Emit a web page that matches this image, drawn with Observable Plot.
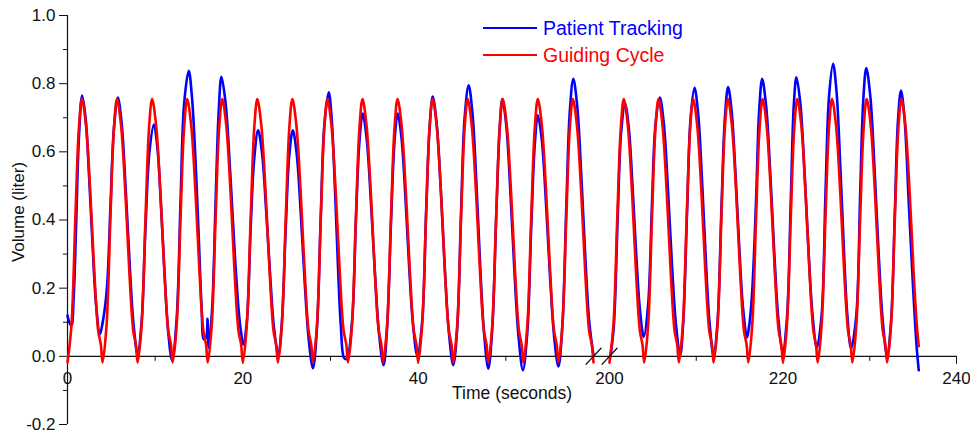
<!DOCTYPE html>
<html><head><meta charset="utf-8">
<script src="https://cdn.jsdelivr.net/npm/d3@7"></script>
<script src="https://cdn.jsdelivr.net/npm/@observablehq/plot@0.6"></script>
<style>
body{margin:0;background:#fff;font-family:"Liberation Sans",Arial,sans-serif;}
#wrap{position:relative;width:970px;height:440px;}
.leg{position:absolute;left:483px;display:flex;align-items:center;font-size:19.5px;height:24px;white-space:nowrap;}
.leg .sw{display:inline-block;width:54px;height:2.5px;margin-right:6px;}
</style></head><body><div id="wrap"></div>
<script>
// ---- data (seconds, liters) ----
const guidingLeft = [
[0,-0.018],[0.45,0.09],[0.9,0.41],[1.3,0.67],[1.65,0.755],[2.1,0.68],[2.6,0.48],[3.05,0.25],[3.5,0.075],[3.8,0.035],
[4,-0.018],[4.45,0.09],[4.9,0.41],[5.3,0.67],[5.65,0.755],[6.1,0.68],[6.6,0.48],[7.05,0.25],[7.5,0.075],[7.8,0.035],
[8,-0.018],[8.45,0.09],[8.9,0.41],[9.3,0.67],[9.65,0.755],[10.1,0.68],[10.6,0.48],[11.05,0.25],[11.5,0.075],[11.8,0.035],
[12,-0.018],[12.45,0.09],[12.9,0.41],[13.3,0.67],[13.65,0.755],[14.1,0.68],[14.6,0.48],[15.05,0.25],[15.5,0.075],[15.8,0.035],
[16,-0.018],[16.45,0.09],[16.9,0.41],[17.3,0.67],[17.65,0.755],[18.1,0.68],[18.6,0.48],[19.05,0.25],[19.5,0.075],[19.8,0.035],
[20,-0.018],[20.45,0.09],[20.9,0.41],[21.3,0.67],[21.65,0.755],[22.1,0.68],[22.6,0.48],[23.05,0.25],[23.5,0.075],[23.8,0.035],
[24,-0.018],[24.45,0.09],[24.9,0.41],[25.3,0.67],[25.65,0.755],[26.1,0.68],[26.6,0.48],[27.05,0.25],[27.5,0.075],[27.8,0.035],
[28,-0.018],[28.45,0.09],[28.9,0.41],[29.3,0.67],[29.65,0.755],[30.1,0.68],[30.6,0.48],[31.05,0.25],[31.5,0.075],[31.8,0.035],
[32,-0.018],[32.45,0.09],[32.9,0.41],[33.3,0.67],[33.65,0.755],[34.1,0.68],[34.6,0.48],[35.05,0.25],[35.5,0.075],[35.8,0.035],
[36,-0.018],[36.45,0.09],[36.9,0.41],[37.3,0.67],[37.65,0.755],[38.1,0.68],[38.6,0.48],[39.05,0.25],[39.5,0.075],[39.8,0.035],
[40,-0.018],[40.45,0.09],[40.9,0.41],[41.3,0.67],[41.65,0.755],[42.1,0.68],[42.6,0.48],[43.05,0.25],[43.5,0.075],[43.8,0.035],
[44,-0.018],[44.45,0.09],[44.9,0.41],[45.3,0.67],[45.65,0.755],[46.1,0.68],[46.6,0.48],[47.05,0.25],[47.5,0.075],[47.8,0.035],
[48,-0.018],[48.45,0.09],[48.9,0.41],[49.3,0.67],[49.65,0.755],[50.1,0.68],[50.6,0.48],[51.05,0.25],[51.5,0.075],[51.8,0.035],
[52,-0.018],[52.45,0.09],[52.9,0.41],[53.3,0.67],[53.65,0.755],[54.1,0.68],[54.6,0.48],[55.05,0.25],[55.5,0.075],[55.8,0.035],
[56,-0.018],[56.45,0.09],[56.9,0.41],[57.3,0.67],[57.65,0.755],[58.1,0.68],[58.6,0.48],[59.05,0.25],[59.5,0.075],[59.8,0.035],
[60,-0.018]
];
const guidingRight = [
[200,-0.018],[200.45,0.09],[200.9,0.41],[201.3,0.67],[201.65,0.755],[202.1,0.68],[202.6,0.48],[203.05,0.25],[203.5,0.075],[203.8,0.035],
[204,-0.018],[204.45,0.09],[204.9,0.41],[205.3,0.67],[205.65,0.755],[206.1,0.68],[206.6,0.48],[207.05,0.25],[207.5,0.075],[207.8,0.035],
[208,-0.018],[208.45,0.09],[208.9,0.41],[209.3,0.67],[209.65,0.755],[210.1,0.68],[210.6,0.48],[211.05,0.25],[211.5,0.075],[211.8,0.035],
[212,-0.018],[212.45,0.09],[212.9,0.41],[213.3,0.67],[213.65,0.755],[214.1,0.68],[214.6,0.48],[215.05,0.25],[215.5,0.075],[215.8,0.035],
[216,-0.018],[216.45,0.09],[216.9,0.41],[217.3,0.67],[217.65,0.755],[218.1,0.68],[218.6,0.48],[219.05,0.25],[219.5,0.075],[219.8,0.035],
[220,-0.018],[220.45,0.09],[220.9,0.41],[221.3,0.67],[221.65,0.755],[222.1,0.68],[222.6,0.48],[223.05,0.25],[223.5,0.075],[223.8,0.035],
[224,-0.018],[224.45,0.09],[224.9,0.41],[225.3,0.67],[225.65,0.755],[226.1,0.68],[226.6,0.48],[227.05,0.25],[227.5,0.075],[227.8,0.035],
[228,-0.018],[228.45,0.09],[228.9,0.41],[229.3,0.67],[229.65,0.755],[230.1,0.68],[230.6,0.48],[231.05,0.25],[231.5,0.075],[231.8,0.035],
[232,-0.018],[232.45,0.09],[232.9,0.41],[233.3,0.67],[233.65,0.755],[234.1,0.68],[234.6,0.48],[235.05,0.25],[235.4,0.1],[235.65,0.03]
];
const patientLeft = [
[0,0.12],[0.2,0.1],[0.45,0.09],[0.7,0.17],[1.0,0.4],[1.3,0.64],[1.67,0.765],[2.06,0.7],[2.48,0.52],[2.89,0.31],[3.27,0.15],[3.7,0.065],
[4.05,0.105],[4.5,0.2],[4.9,0.44],[5.3,0.67],[5.74,0.759],[6.17,0.686],[6.64,0.49],[7.1,0.267],[7.53,0.095],[8.0,0.005],
[8.45,0.1],[8.9,0.38],[9.35,0.6],[9.85,0.68],[10.25,0.613],[10.68,0.434],[11.1,0.228],[11.49,0.071],[11.93,-0.012],
[12.45,0.11],[12.9,0.46],[13.3,0.74],[13.83,0.838],[14.2,0.76],[14.6,0.575],[15.0,0.33],[15.3,0.14],[15.55,0.05],[15.85,0.06],[15.97,0.11],[16.1,0.025],
[16.5,0.14],[16.9,0.46],[17.25,0.72],[17.56,0.82],[18.03,0.744],[18.56,0.54],[19.06,0.31],[19.54,0.13],[19.8,0.07],[20.05,0.035],
[20.45,0.1],[20.9,0.38],[21.3,0.58],[21.74,0.663],[22.18,0.599],[22.66,0.428],[23.13,0.232],[23.56,0.082],[24.05,0.003],
[24.45,0.1],[24.9,0.38],[25.3,0.59],[25.7,0.663],[26.14,0.595],[26.62,0.415],[27.08,0.207],[27.52,0.049],[28.0,-0.035],
[28.45,0.08],[28.9,0.42],[29.3,0.68],[29.8,0.775],[30.13,0.699],[30.5,0.497],[30.85,0.266],[31.18,0.089],[31.55,-0.005],[31.85,-0.008],
[32.45,0.1],[32.9,0.4],[33.3,0.63],[33.67,0.712],[34.12,0.64],[34.62,0.449],[35.1,0.23],[35.55,0.063],[36.05,-0.026],
[36.45,0.08],[36.9,0.39],[37.3,0.63],[37.66,0.712],[38.09,0.643],[38.56,0.46],[39.0,0.249],[39.43,0.088],[39.9,0.003],
[40.45,0.1],[40.9,0.42],[41.3,0.67],[41.66,0.762],[42.1,0.686],[42.6,0.481],[43.06,0.247],[43.51,0.069],[44.0,-0.026],
[44.45,0.08],[44.9,0.43],[45.3,0.7],[45.76,0.795],[46.19,0.714],[46.66,0.499],[47.1,0.252],[47.53,0.064],[48.0,-0.036],
[48.45,0.08],[48.9,0.41],[49.3,0.67],[49.6,0.755],[50.05,0.678],[50.54,0.472],[51.01,0.235],[51.46,0.055],[51.95,-0.041],
[52.45,0.07],[52.9,0.38],[53.3,0.62],[53.65,0.707],[54.1,0.636],[54.59,0.445],[55.06,0.226],[55.51,0.058],[56.0,-0.03],
[56.45,0.09],[56.9,0.44],[57.3,0.72],[57.7,0.814],[58.14,0.735],[58.62,0.525],[59.08,0.284],[59.52,0.1],[60.0,0.003]
];
const patientRight = [
[200.1,-0.002],[200.5,0.09],[200.95,0.41],[201.35,0.66],[201.8,0.74],[202.21,0.674],[202.66,0.497],[203.09,0.294],[203.5,0.139],[203.95,0.057],
[204.45,0.15],[204.9,0.45],[205.3,0.68],[205.8,0.759],[206.25,0.686],[206.74,0.49],[207.21,0.265],[207.66,0.094],[208.15,0.003],
[208.5,0.1],[208.95,0.43],[209.35,0.7],[209.8,0.788],[210.22,0.712],[210.68,0.509],[211.12,0.275],[211.54,0.097],[212.0,0.003],
[212.45,0.1],[212.9,0.43],[213.3,0.7],[213.67,0.79],[214.08,0.719],[214.54,0.528],[214.98,0.31],[215.39,0.143],[215.85,0.055],[216.05,0.08],
[216.4,0.17],[216.9,0.46],[217.25,0.72],[217.6,0.814],[218.05,0.736],[218.55,0.529],[219.02,0.291],[219.47,0.109],[219.97,0.013],
[220.45,0.11],[220.9,0.46],[221.25,0.74],[221.55,0.819],[222.0,0.742],[222.49,0.536],[222.96,0.301],[223.41,0.12],[223.9,0.025],
[224.45,0.12],[224.9,0.48],[225.3,0.76],[225.77,0.858],[226.17,0.777],[226.6,0.561],[227.02,0.313],[227.41,0.123],[227.85,0.023],
[228.45,0.12],[228.9,0.48],[229.25,0.75],[229.6,0.846],[230.06,0.764],[230.56,0.546],[231.04,0.296],[231.5,0.104],[232.0,0.003],
[232.45,0.1],[232.9,0.43],[233.25,0.69],[233.6,0.78],[234.0,0.7],[234.5,0.45],[235.0,0.2],[235.4,0.03],[235.65,-0.041]
];
const xMajorTicks = [0, 20, 40, 200, 220, 240];
const xMinorTicks = [10, 30, 50, 210, 230];
const yMajorTicks = [-0.2, 0, 0.2, 0.4, 0.6, 0.8, 1.0];
const yMinorTicks = [-0.1, 0.1, 0.3, 0.5, 0.7, 0.9];
const axisBreaks = [60, 200];
const seriesNames = ["Patient Tracking", "Guiding Cycle"];
const seriesColors = ["#0000ff", "#ff0000"];

// ---- layout ----
const W = 970, H = 440, mT = 15, mB = 16, mL = 67, mR = 14;
const yDomain = [-0.2, 1.0];
const pxPerUnit = (H - mT - mB) / (yDomain[1] - yDomain[0]);
const axisShift = -(0 - yDomain[0]) * pxPerUnit; // move x axis up to y = 0
const font = "Liberation Sans, Arial, sans-serif";
const slash = {draw(ctx, l) { ctx.moveTo(0, 0); ctx.lineTo(0, -l); }};
const lineW = 2.6;

const chart = Plot.plot({
  width: W, height: H,
  marginTop: mT, marginBottom: mB, marginLeft: mL, marginRight: mR,
  style: {fontFamily: font, fontSize: "17px", background: "white", color: "#111"},
  x: {type: "linear", domain: [0, 60, 200, 240], range: [67, 593, 609, 956]},
  y: {domain: yDomain},
  marks: [
    Plot.ruleY([0], {stroke: "#111", strokeWidth: 1.2}),
    Plot.ruleX([0], {stroke: "#111", strokeWidth: 1.2}),
    Plot.axisY({ticks: yMajorTicks, tickSize: 8, tickPadding: 4, tickFormat: d => d.toFixed(1), label: null, fontSize: 17}),
    Plot.axisY({ticks: yMinorTicks, tickSize: 4, tickFormat: () => "", label: null}),
    Plot.axisX({ticks: xMajorTicks, tickSize: 8, tickPadding: 8, dy: axisShift, tickFormat: d => String(d), label: null, fontSize: 17}),
    Plot.axisX({ticks: xMinorTicks, tickSize: 5, dy: axisShift, tickFormat: () => "", label: null}),
    Plot.line(patientLeft, {x: d => d[0], y: d => d[1], stroke: seriesColors[0], strokeWidth: lineW, curve: "catmull-rom"}),
    Plot.line(patientRight, {x: d => d[0], y: d => d[1], stroke: seriesColors[0], strokeWidth: lineW, curve: "catmull-rom"}),
    Plot.line(guidingLeft, {x: d => d[0], y: d => d[1], stroke: seriesColors[1], strokeWidth: lineW, curve: "catmull-rom"}),
    Plot.line(guidingRight, {x: d => d[0], y: d => d[1], stroke: seriesColors[1], strokeWidth: lineW, curve: "catmull-rom"}),
    Plot.vector(axisBreaks, {x: d => d, y: 0, length: 22, rotate: 43, anchor: "middle", shape: slash, stroke: "#111", strokeWidth: 1.3}),
    Plot.text(["Volume (liter)"], {frameAnchor: "left", dx: -49, dy: -8, rotate: -90, textAnchor: "middle", lineAnchor: "middle", fontSize: 17, fill: "#111"}),
    Plot.text(["Time (seconds)"], {frameAnchor: "bottom", dy: -31, textAnchor: "middle", lineAnchor: "middle", fontSize: 17.5, fill: "#111"})
  ]
});
const wrap = document.getElementById("wrap");
wrap.appendChild(chart);
seriesNames.forEach((name, i) => {
  const d = document.createElement("div");
  d.className = "leg";
  d.style.top = (16 + i * 27) + "px";
  d.style.color = seriesColors[i];
  const sw = document.createElement("span");
  sw.className = "sw";
  sw.style.background = seriesColors[i];
  d.appendChild(sw);
  d.appendChild(document.createTextNode(name));
  wrap.appendChild(d);
});
</script></body></html>
